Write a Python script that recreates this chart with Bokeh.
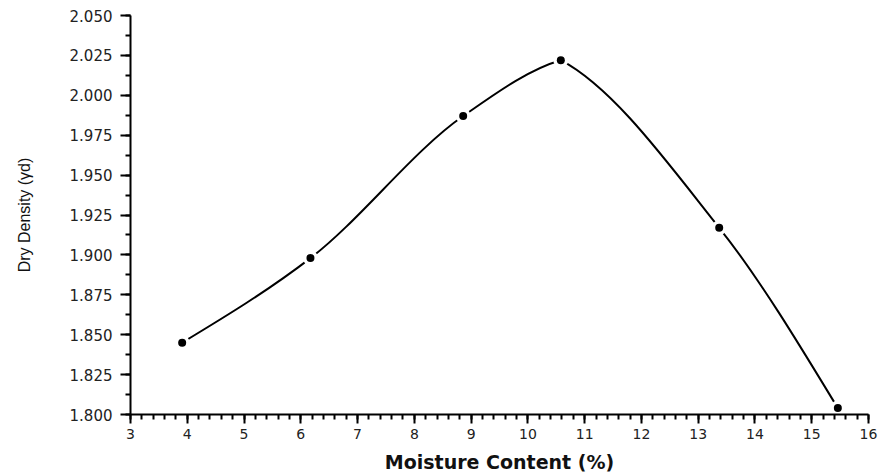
from bokeh.plotting import figure
from bokeh.models import Range1d, FixedTicker
from bokeh.embed import file_html
from bokeh.resources import INLINE

# Compaction test: dry density against moisture content
moisture = [3.91, 6.17, 8.86, 10.58, 13.37, 15.46]
dry_density = [1.845, 1.898, 1.987, 2.022, 1.917, 1.804]

x_ticks = list(range(3, 17))
y_ticks = [1.800, 1.825, 1.850, 1.875, 1.900, 1.925, 1.950, 1.975, 2.000, 2.025, 2.050]

p = figure(width=883, height=476, output_backend="svg", toolbar_location=None,
           x_range=Range1d(3, 16), y_range=Range1d(1.8, 2.05),
           min_border_left=130, min_border_right=15, min_border_top=15, min_border_bottom=62)
p.outline_line_color = None
p.xgrid.visible = False
p.ygrid.visible = False
p.background_fill_color = "white"
p.border_fill_color = "white"

# Shape-preserving cubic through the points; at the peak each side keeps
# its own slope so the curve does not overshoot.
n = len(moisture)
h = [moisture[i + 1] - moisture[i] for i in range(n - 1)]
s = [(dry_density[i + 1] - dry_density[i]) / h[i] for i in range(n - 1)]
d_left = [0.0] * n   # slope arriving at point i
d_right = [0.0] * n  # slope leaving point i
for i in range(1, n - 1):
    if s[i - 1] * s[i] > 0:
        w1 = 2 * h[i] + h[i - 1]
        w2 = h[i] + 2 * h[i - 1]
        d = (w1 + w2) / (w1 / s[i - 1] + w2 / s[i])
        d_left[i] = d_right[i] = d
    else:
        d_left[i] = 0.5 * s[i - 1]
        d_right[i] = 0.5 * s[i]
d_right[0] = d_left[0] = 1.5 * s[0] - 0.5 * d_right[1]
d_left[-1] = d_right[-1] = 1.5 * s[-1] - 0.5 * d_left[-2]

x0, y0, x1, y1, cx0, cy0, cx1, cy1 = [], [], [], [], [], [], [], []
for i in range(n - 1):
    x0.append(moisture[i]); y0.append(dry_density[i])
    x1.append(moisture[i + 1]); y1.append(dry_density[i + 1])
    cx0.append(moisture[i] + h[i] / 3)
    cy0.append(dry_density[i] + d_right[i] * h[i] / 3)
    cx1.append(moisture[i + 1] - h[i] / 3)
    cy1.append(dry_density[i + 1] - d_left[i + 1] * h[i] / 3)
p.bezier(x0=x0, y0=y0, x1=x1, y1=y1, cx0=cx0, cy0=cy0, cx1=cx1, cy1=cy1,
         line_color="black", line_width=2)

# markers with a small white gap around them
p.scatter(moisture, dry_density, marker="circle", size=15, fill_color="white", line_color=None)
p.scatter(moisture, dry_density, marker="circle", size=8, fill_color="black", line_color=None)

xa = p.xaxis[0]
xa.ticker = FixedTicker(ticks=x_ticks, minor_ticks=[3 + k * 0.2 for k in range(66)])
xa.axis_label = "Moisture Content (%)"
xa.axis_label_text_font = "DejaVu Sans"
xa.axis_label_text_font_style = "bold"
xa.axis_label_text_font_size = "19px"
xa.axis_label_text_color = "#111111"
xa.axis_label_standoff = 9
xa.major_label_text_font = "DejaVu Sans"
xa.major_label_text_font_size = "14px"
xa.major_label_text_color = "#222222"
xa.major_label_standoff = 5
xa.axis_line_width = 2
xa.major_tick_line_width = 2
xa.minor_tick_line_width = 2
xa.major_tick_out = 9
xa.major_tick_in = 0
xa.minor_tick_out = 5
xa.minor_tick_in = 0

ya = p.yaxis[0]
ya.ticker = FixedTicker(ticks=y_ticks, minor_ticks=[1.8 + k * 0.0125 for k in range(21)])
ya.major_label_overrides = {t: f"{t:.3f}" for t in y_ticks}
ya.axis_label = "Dry Density (γd)"
ya.axis_label_text_font = "Liberation Sans"
ya.axis_label_text_font_style = "normal"
ya.axis_label_text_font_size = "16px"
ya.axis_label_text_color = "#111111"
ya.axis_label_standoff = 34
ya.major_label_text_font = "DejaVu Sans"
ya.major_label_text_font_size = "15px"
ya.major_label_text_color = "#222222"
ya.major_label_standoff = 8
ya.axis_line_width = 2
ya.major_tick_line_width = 2
ya.minor_tick_line_width = 2
ya.major_tick_out = 10
ya.major_tick_in = 0
ya.minor_tick_out = 5
ya.minor_tick_in = 0

open("out.html", "w").write(file_html(p, INLINE))
